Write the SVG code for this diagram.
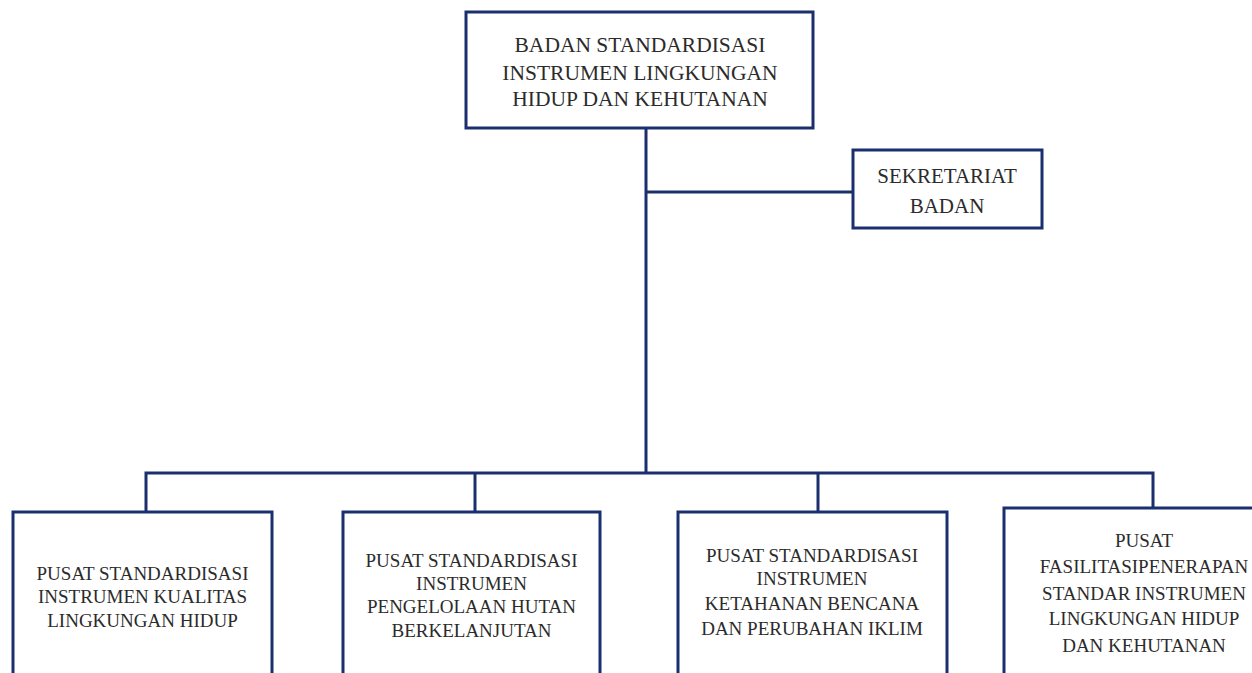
<svg xmlns="http://www.w3.org/2000/svg" width="1252" height="673" viewBox="0 0 1252 673">
  <style>
    .box { fill: #ffffff; stroke: #1b2f6e; stroke-width: 3; }
    .wire { fill: none; stroke: #1b2f6e; stroke-width: 3; stroke-linejoin: miter; }
    .lbl { font-family: "Liberation Serif", "DejaVu Serif", serif; fill: #2b2b2b; text-anchor: middle; }
  </style>
  <rect width="1252" height="673" fill="#ffffff"/>

  <!-- connectors -->
  <g id="connectors">
    <path class="wire" d="M646 128 V473"/>
    <path class="wire" d="M646 192 H853"/>
    <path class="wire" d="M146 512 V473 H1153 V508"/>
    <path class="wire" d="M475 473 V512"/>
    <path class="wire" d="M818 473 V512"/>
  </g>

  <!-- head of agency -->
  <g id="node-badan">
    <rect class="box" x="466" y="12" width="347" height="116"/>
    <text class="lbl" font-size="21.5" x="640" y="52">BADAN STANDARDISASI</text>
    <text class="lbl" font-size="21.5" x="640" y="80">INSTRUMEN LINGKUNGAN</text>
    <text class="lbl" font-size="21.5" x="640" y="106">HIDUP DAN KEHUTANAN</text>
  </g>

  <!-- secretariat -->
  <g id="node-sekretariat">
    <rect class="box" x="853" y="150" width="189" height="78"/>
    <text class="lbl" font-size="21" x="947" y="183">SEKRETARIAT</text>
    <text class="lbl" font-size="21" x="947" y="213">BADAN</text>
  </g>

  <!-- centres -->
  <g id="node-kualitas">
    <rect class="box" x="13" y="512" width="259" height="180"/>
    <text class="lbl" font-size="19" x="142.5" y="580">PUSAT STANDARDISASI</text>
    <text class="lbl" font-size="19" x="142.5" y="603">INSTRUMEN KUALITAS</text>
    <text class="lbl" font-size="19" x="142.5" y="627">LINGKUNGAN HIDUP</text>
  </g>

  <g id="node-hutan">
    <rect class="box" x="343" y="512" width="257" height="180"/>
    <text class="lbl" font-size="19" x="471.5" y="567">PUSAT STANDARDISASI</text>
    <text class="lbl" font-size="19" x="471.5" y="590">INSTRUMEN</text>
    <text class="lbl" font-size="19" x="471.5" y="613">PENGELOLAAN HUTAN</text>
    <text class="lbl" font-size="19" x="471.5" y="637">BERKELANJUTAN</text>
  </g>

  <g id="node-iklim">
    <rect class="box" x="678" y="512" width="269" height="180"/>
    <text class="lbl" font-size="19" x="812" y="562">PUSAT STANDARDISASI</text>
    <text class="lbl" font-size="19" x="812" y="585">INSTRUMEN</text>
    <text class="lbl" font-size="19" x="812" y="610">KETAHANAN BENCANA</text>
    <text class="lbl" font-size="19" x="812" y="635">DAN PERUBAHAN IKLIM</text>
  </g>

  <g id="node-fasilitasi">
    <rect class="box" x="1004" y="508" width="260" height="184"/>
    <text class="lbl" font-size="19" x="1144" y="547">PUSAT</text>
    <text class="lbl" font-size="19" x="1144" y="573">FASILITASIPENERAPAN</text>
    <text class="lbl" font-size="19" x="1144" y="600">STANDAR INSTRUMEN</text>
    <text class="lbl" font-size="19" x="1144" y="625">LINGKUNGAN HIDUP</text>
    <text class="lbl" font-size="19" x="1144" y="652">DAN KEHUTANAN</text>
  </g>
</svg>
